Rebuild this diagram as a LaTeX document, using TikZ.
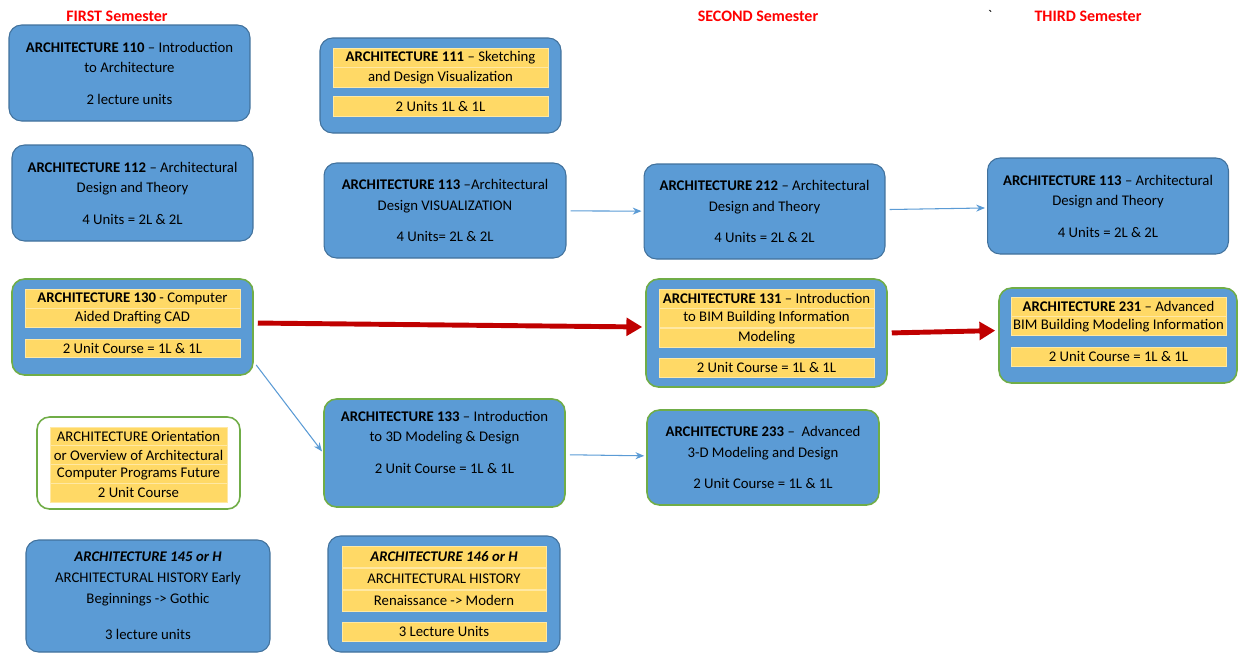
\documentclass[tikz,border=0pt]{standalone}
\usepackage{fontspec}
\setmainfont{Carlito}
\usepackage{tikz}
\usetikzlibrary{arrows.meta}
\definecolor{boxblue}{HTML}{5B9BD5}
\definecolor{boxline}{HTML}{41719C}
\definecolor{boxgreen}{HTML}{70AD47}
\definecolor{barylw}{HTML}{FFD966}
\definecolor{arrred}{HTML}{C00000}
\tikzset{
	course/.style={draw=boxline, fill=boxblue, line width=0.6pt, rounded corners=0.25cm, align=center, inner sep=0pt, minimum width=4.82cm, minimum height=1.92cm},
	cadcourse/.style={course, draw=boxgreen, line width=0.9pt},
	bar/.style={fill=barylw, draw=barylw!60!white, line width=0.3pt, inner sep=0pt, minimum width=4.3cm, align=center, minimum height=0.39cm},
	semester/.style={text=red, font=\fontsize{9.1}{11}\selectfont\bfseries},
	link/.style={-{Stealth[length=5pt,width=4pt]}, boxblue, line width=0.6pt, shorten <=0.08cm, shorten >=0.04cm},
	mainlink/.style={-{Triangle[length=9pt,width=10pt]}, arrred, line width=2.8pt, shorten <=0.08cm, shorten >=0.06cm},
}

\begin{document}
\begin{tikzpicture}[x=0.02cm, y=-0.02cm, font=\fontsize{8.4}{11.8}\selectfont]
	\useasboundingbox (0,0) rectangle (1238,654);
	% semester headings
	\node[semester] (first) at (117,16) {FIRST Semester};
	\node[semester] (second) at (758,16) {SECOND Semester};
	\node[semester] (third) at (1088,16) {THIRD Semester};
	\node (tick) at (990,15) {\textasciigrave};
	% first column
	\node[course] (b110) at (129.5,73) {\textbf{ARCHITECTURE 110} – Introduction\\to Architecture\\[6pt]2 lecture units};
	\node[course] (b112) at (132.5,193) {\textbf{ARCHITECTURE 112} – Architectural\\Design and Theory\\[6pt]4 Units = 2L \& 2L};
	\node[cadcourse] (b130) at (132.5,327) {};
	\node[bar] (b130a) at (132.5,298.5) {\textbf{ARCHITECTURE 130} - Computer};
	\node[bar] (b130b) at (132.5,317.5) {Aided Drafting CAD};
	\node[bar, minimum height=0.36cm] (b130c) at (132.5,348) {2 Unit Course = 1L \& 1L};
	\node[cadcourse, fill=white, minimum width=4.06cm, minimum height=1.84cm] (orient) at (138.5,463) {};
	\node[bar, minimum width=3.54cm, minimum height=0.375cm] (orienta) at (138.5,436.4) {ARCHITECTURE Orientation};
	\node[bar, minimum width=3.54cm, minimum height=0.375cm] (orientb) at (138.5,455.1) {or Overview of Architectural};
	\node[bar, minimum width=3.54cm, minimum height=0.375cm] (orientc) at (138.5,473.9) {Computer Programs Future};
	\node[bar, minimum width=3.54cm, minimum height=0.375cm] (orientd) at (138.5,492.6) {2 Unit Course};
	\node[course, minimum width=4.88cm, minimum height=2.24cm] (b145) at (148,596) {\textbf{\textit{ARCHITECTURE 145 or H}}\\ARCHITECTURAL HISTORY Early\\Beginnings -> Gothic\\[9pt]3 lecture units};
	% second column
	\node[course, minimum height=1.9cm] (b111) at (440.5,85.5) {};
	\node[bar] (b111a) at (440.5,57.75) {\textbf{ARCHITECTURE 111} – Sketching};
	\node[bar] (b111b) at (440.5,77.25) {and Design Visualization};
	\node[bar] (b111c) at (440.5,106.5) {2 Units 1L \& 1L};
	\node[course, minimum width=4.84cm, minimum height=1.9cm] (b113) at (445,210.5) {\textbf{ARCHITECTURE 113} –Architectural\\Design VISUALIZATION\\[6pt]4 Units= 2L \& 2L};
	\node[cadcourse, minimum height=2.16cm] (b133) at (444.5,453) {};
	\node[align=center] (b133txt) at (444.5,442) {\textbf{ARCHITECTURE 133} – Introduction\\to 3D Modeling \& Design\\[6pt]2 Unit Course = 1L \& 1L};
	\node[course, minimum width=4.64cm, minimum height=2.32cm] (b146) at (444,594) {};
	\node[bar, minimum width=4.08cm, minimum height=0.43cm] (b146a) at (444,557) {\textbf{\textit{ARCHITECTURE 146 or H}}};
	\node[bar, minimum width=4.08cm, minimum height=0.43cm] (b146b) at (444,579) {ARCHITECTURAL HISTORY};
	\node[bar, minimum width=4.08cm, minimum height=0.43cm] (b146c) at (444,600.5) {Renaissance -> Modern};
	\node[bar, minimum width=4.08cm, minimum height=0.38cm] (b146d) at (444,631.5) {3 Lecture Units};
	% third column
	\node[course, minimum height=1.9cm] (b212) at (764.5,211.5) {\textbf{ARCHITECTURE 212} – Architectural\\Design and Theory\\[6pt]4 Units = 2L \& 2L};
	\node[cadcourse, minimum height=2.16cm] (b131) at (766.5,333) {};
	\node[bar] (b131a) at (766.5,298.5) {\textbf{ARCHITECTURE 131} – Introduction};
	\node[bar] (b131b) at (766.5,318) {to BIM Building Information};
	\node[bar] (b131c) at (766.5,337.5) {Modeling};
	\node[bar] (b131d) at (766.5,367.5) {2 Unit Course = 1L \& 1L};
	\node[cadcourse, minimum width=4.64cm, minimum height=1.9cm] (b233) at (763,457.5) {\textbf{ARCHITECTURE 233} –\ \ Advanced\\3-D Modeling and Design\\[6pt]2 Unit Course = 1L \& 1L};
	% fourth column
	\node[course] (b113t) at (1108,206) {\textbf{ARCHITECTURE 113} – Architectural\\Design and Theory\\[6pt]4 Units = 2L \& 2L};
	\node[cadcourse, minimum width=4.76cm, minimum height=1.9cm] (b231) at (1118,335.5) {};
	\node[bar] (b231a) at (1118.5,306.5) {\textbf{ARCHITECTURE 231} – Advanced};
	\node[bar] (b231b) at (1118.5,326) {BIM Building Modeling Information};
	\node[bar] (b231c) at (1118.5,356.5) {2 Unit Course = 1L \& 1L};
	% connectors
	\draw[link] (b113) -- (b212);
	\draw[link] (b212) -- (b113t);
	\draw[link] ([yshift=0.28cm]b130.south east) -- (b133.west);
	\draw[link] (b133) -- (b233);
	\draw[mainlink] ([yshift=0.08cm]b130.east) -- ([yshift=0.12cm]b131.west);
	\draw[mainlink] (b131.east) -- ([yshift=0.1cm]b231.west);
\end{tikzpicture}
\end{document}
